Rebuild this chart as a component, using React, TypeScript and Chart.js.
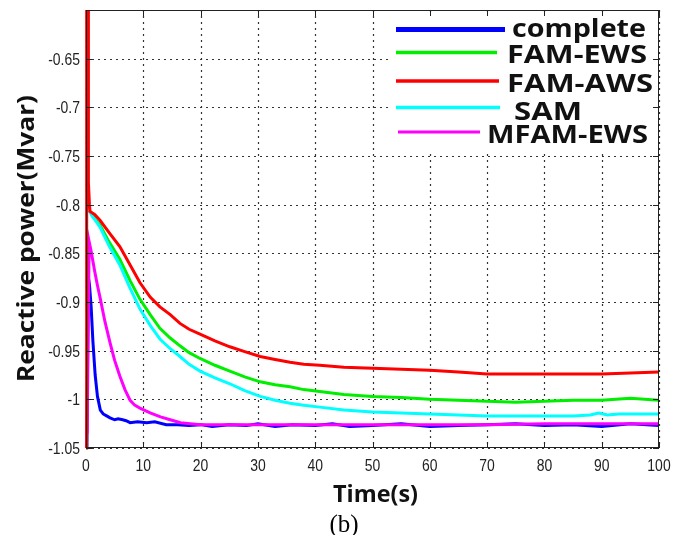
import { useEffect, useRef } from "react";
import { Chart, registerables } from "chart.js";

Chart.register(...registerables);

// ---------- data ----------
const seriesNames = ["complete", "FAM-EWS", "FAM-AWS", "SAM", "MFAM-EWS"];
const seriesColors = ["#0000ff", "#00ee00", "#ff0000", "#00ffff", "#ff00ff"];
const drawOrder = [5, 4, 1, 3, 2];

const xTickValues = [0, 10, 20, 30, 40, 50, 60, 70, 80, 90, 100];
const xTickLabels = ["0", "10", "20", "30", "40", "50", "60", "70", "80", "90", "100"];
const yTickValues = [-1.05, -1, -0.95, -0.9, -0.85, -0.8, -0.75, -0.7, -0.65, -0.6];
const yTickLabels = ["-1.05", "-1", "-0.95", "-0.9", "-0.85", "-0.8", "-0.75", "-0.7", "-0.65", ""];

const completeTime = [0.15, 0.4, 0.6, 0.9, 1.2, 1.6, 2.0, 2.5, 3.0, 3.6, 4.2, 5.0, 5.6, 6.4, 7.0, 7.7, 9.0, 10.6, 12.0, 14.0, 16.0, 18.0, 20.0, 22, 25, 28, 30, 33, 36, 40, 43, 46, 50, 55, 60, 65, 70, 75, 80, 85, 90, 95, 100];
const completeValue = [-1.05, -0.874, -0.882, -0.905, -0.94, -0.975, -0.997, -1.011, -1.015, -1.017, -1.019, -1.021, -1.02, -1.021, -1.022, -1.024, -1.023, -1.024, -1.023, -1.026, -1.026, -1.027, -1.026, -1.028, -1.026, -1.027, -1.025, -1.028, -1.026, -1.027, -1.025, -1.028, -1.027, -1.025, -1.028, -1.027, -1.026, -1.025, -1.027, -1.026, -1.028, -1.025, -1.027];

const famEwsTime = [0.6, 1, 1.6, 2.44, 4, 5.9, 7.7, 9.4, 11.2, 12.9, 14.7, 16.4, 18, 19.9, 22.5, 25.1, 27.7, 30.4, 33, 35.6, 38, 40.8, 45, 50, 55, 60, 65, 70, 75, 80, 85, 90, 95, 100];
const famEwsValue = [-0.806, -0.81, -0.815, -0.821, -0.838, -0.856, -0.878, -0.897, -0.913, -0.927, -0.937, -0.945, -0.952, -0.958, -0.965, -0.971, -0.977, -0.982, -0.985, -0.987, -0.99, -0.992, -0.995, -0.997, -0.998, -1.0, -1.001, -1.002, -1.003, -1.002, -1.001, -1.001, -0.999, -1.001];

const famAwsTime = [0, 0.12, 0.35, 0.42, 0.6, 0.7, 1.5, 2.44, 4.2, 5.9, 7.7, 9.4, 11.2, 12.9, 14.7, 16.4, 18, 19.9, 22.5, 25.1, 27.7, 30.4, 33, 35.6, 38, 40.8, 45, 50, 55, 60, 65, 70, 75, 80, 85, 90, 95, 100];
const famAwsValue = [-1.05, -0.45, -0.55, -0.777, -0.8, -0.807, -0.81, -0.816, -0.83, -0.843, -0.862, -0.88, -0.895, -0.905, -0.913, -0.922, -0.928, -0.933, -0.94, -0.946, -0.951, -0.956, -0.959, -0.962, -0.964, -0.965, -0.967, -0.968, -0.969, -0.97, -0.972, -0.974, -0.974, -0.974, -0.974, -0.974, -0.973, -0.972];

const samTime = [0.6, 1, 1.6, 2.44, 4, 5.9, 7.7, 9.4, 11.2, 12.9, 14.7, 16.4, 18, 19.9, 22.5, 25.1, 27.7, 30.4, 33, 35.6, 38, 40.8, 45, 50, 55, 60, 65, 70, 75, 80, 85, 88, 89.5, 91, 93, 95, 100];
const samValue = [-0.806, -0.811, -0.816, -0.823, -0.842, -0.862, -0.886, -0.907, -0.924, -0.938, -0.948, -0.956, -0.964, -0.971, -0.978, -0.984, -0.991, -0.997, -1.001, -1.004, -1.006, -1.008, -1.011, -1.013, -1.014, -1.015, -1.016, -1.017, -1.017, -1.017, -1.017, -1.016, -1.014, -1.016, -1.015, -1.015, -1.015];

const mfamEwsTime = [0.2, 0.55, 0.9, 1.5, 2.0, 2.44, 3.3, 4.2, 5.0, 5.9, 6.8, 7.7, 8.5, 9.4, 11.2, 13, 14.7, 16.5, 18.2, 20, 30, 40, 50, 60, 70, 80, 90, 100];
const mfamEwsValue = [-1.035, -0.838, -0.848, -0.868, -0.883, -0.895, -0.92, -0.942, -0.96, -0.976, -0.99, -1.001, -1.006, -1.009, -1.014, -1.018, -1.021, -1.024, -1.025, -1.026, -1.026, -1.026, -1.026, -1.026, -1.026, -1.025, -1.025, -1.025];

const seriesTimes = [completeTime, famEwsTime, famAwsTime, samTime, mfamEwsTime];
const seriesValues = [completeValue, famEwsValue, famAwsValue, samValue, mfamEwsValue];

const xTitle = "Time(s)";
const yTitle = "Reactive power(Mvar)";
const caption = "(b)";

// ---------- styling ----------
const tickFamily = "'Liberation Sans', Arial, sans-serif";
const titleFamily = "'Open Sans', 'DejaVu Sans', sans-serif";
const tickSqueeze = 0.82;

const legendLayout = [
  { x1: 396, x2: 505, y: 29.5, w: 5, tx: 512, ty: 37, tw: 134 },
  { x1: 396, x2: 497, y: 52.5, w: 3.5, tx: 507, ty: 63, tw: 140 },
  { x1: 396, x2: 499, y: 81, w: 3.5, tx: 507, ty: 92, tw: 146 },
  { x1: 396, x2: 500, y: 107.5, w: 3.5, tx: 514, ty: 120, tw: 68 },
  { x1: 398, x2: 480, y: 132, w: 3, tx: 487, ty: 143, tw: 161 },
];

function fitText(ctx: CanvasRenderingContext2D, text: string, x: number, y: number, width: number, font: string, align: CanvasTextAlign, rotate = 0) {
  ctx.save();
  ctx.font = font;
  const w = ctx.measureText(text).width || 1;
  ctx.translate(x, y);
  if (rotate) ctx.rotate(rotate);
  ctx.scale(width / w, 1);
  ctx.textAlign = align;
  ctx.textBaseline = "alphabetic";
  ctx.fillText(text, 0, 0);
  ctx.restore();
}

function squeezeText(ctx: CanvasRenderingContext2D, text: string, x: number, y: number, sx: number, align: CanvasTextAlign) {
  ctx.save();
  ctx.translate(x, y);
  ctx.scale(sx, 1);
  ctx.textAlign = align;
  ctx.textBaseline = "alphabetic";
  ctx.fillText(text, 0, 0);
  ctx.restore();
}

const matlabPlugin = {
  id: "matlabLook",
  beforeDatasetsDraw(chart: any) {
    const { ctx, chartArea, scales } = chart;
    const { left, right, top, bottom } = chartArea;
    ctx.save();
    ctx.strokeStyle = "#333";
    ctx.lineWidth = 1.2;
    ctx.setLineDash([2, 4]);
    for (const v of xTickValues) {
      const px = Math.round(scales.x.getPixelForValue(v)) + 0.5;
      ctx.beginPath();
      ctx.moveTo(px, top);
      ctx.lineTo(px, bottom);
      ctx.stroke();
    }
    for (const v of yTickValues) {
      const py = Math.round(scales.y.getPixelForValue(v)) + 0.5;
      ctx.beginPath();
      ctx.moveTo(left, py);
      ctx.lineTo(right, py);
      ctx.stroke();
    }
    ctx.setLineDash([]);
    // tick labels
    ctx.fillStyle = "#222";
    ctx.font = `17px ${tickFamily}`;
    xTickValues.forEach((v, i) => {
      const px = scales.x.getPixelForValue(v);
      squeezeText(ctx, xTickLabels[i], px, bottom + 23, tickSqueeze, "center");
    });
    yTickValues.forEach((v, i) => {
      const py = scales.y.getPixelForValue(v);
      squeezeText(ctx, yTickLabels[i], left - 6, py + 6, tickSqueeze, "right");
    });
    ctx.restore();
  },
  afterDatasetsDraw(chart: any) {
    const { ctx, chartArea, scales } = chart;
    const { left, right, top, bottom } = chartArea;
    ctx.save();
    // legend box
    ctx.fillStyle = "#ffffff";
    ctx.fillRect(392, top + 2, right - 3 - 392, 151 - top - 2);
    chart.data.datasets.forEach((ds: any, i: number) => {
      const L = legendLayout[i];
      ctx.strokeStyle = ds.borderColor;
      ctx.lineWidth = L.w;
      ctx.beginPath();
      ctx.moveTo(L.x1, L.y);
      ctx.lineTo(L.x2, L.y);
      ctx.stroke();
      ctx.fillStyle = "#111";
      fitText(ctx, ds.label, L.tx, L.ty, L.tw, `bold 25px ${titleFamily}`, "left");
    });
    // frame
    ctx.strokeStyle = "#222";
    ctx.lineWidth = 1;
    ctx.strokeRect(Math.round(left) + 0.5, Math.round(top) + 0.5, Math.round(right - left) - 1, Math.round(bottom - top) - 1);
    // inner ticks
    const tl = 6;
    ctx.beginPath();
    for (const v of xTickValues) {
      const px = Math.round(scales.x.getPixelForValue(v)) + 0.5;
      ctx.moveTo(px, bottom);
      ctx.lineTo(px, bottom - tl);
      ctx.moveTo(px, top);
      ctx.lineTo(px, top + tl);
    }
    for (const v of yTickValues) {
      const py = Math.round(scales.y.getPixelForValue(v)) + 0.5;
      ctx.moveTo(left, py);
      ctx.lineTo(left + tl, py);
      ctx.moveTo(right, py);
      ctx.lineTo(right - tl, py);
    }
    ctx.stroke();
    ctx.restore();
  },
  afterDraw(chart: any) {
    const { ctx } = chart;
    ctx.save();
    ctx.fillStyle = "#111";
    fitText(ctx, yTitle, 34, 238.5, 287, `bold 24px ${titleFamily}`, "center", -Math.PI / 2);
    fitText(ctx, xTitle, 375.5, 502, 85, `bold 24px ${titleFamily}`, "center");
    ctx.fillStyle = "#000";
    ctx.font = "25px 'Liberation Serif', 'Times New Roman', serif";
    ctx.textAlign = "center";
    ctx.textBaseline = "alphabetic";
    ctx.fillText(caption, 344, 532);
    ctx.restore();
  },
};

export default function App() {
  const ref = useRef<HTMLCanvasElement | null>(null);

  useEffect(() => {
    const canvas = ref.current;
    if (!canvas) return;
    const datasets = seriesNames.map((name, i) => ({
      label: name,
      data: seriesTimes[i].map((t, j) => ({ x: t, y: seriesValues[i][j] })),
      borderColor: seriesColors[i],
      backgroundColor: seriesColors[i],
      borderWidth: 3,
      pointRadius: 0,
      fill: false,
      tension: 0,
      order: drawOrder[i],
      clip: { left: 6, top: 0, right: 2, bottom: 2 },
    }));
    const chart = new Chart(canvas, {
      type: "line",
      data: { datasets },
      plugins: [matlabPlugin],
      options: {
        responsive: false,
        animation: false,
        devicePixelRatio: 1,
        events: [],
        layout: { padding: { left: 0, right: 27, top: 10, bottom: 0 } },
        plugins: { legend: { display: false }, tooltip: { enabled: false } },
        scales: {
          x: {
            type: "linear",
            min: 0,
            max: 100,
            afterBuildTicks: (s: any) => {
              s.ticks = xTickValues.map((value) => ({ value }));
            },
            afterFit: (s: any) => {
              s.height = 87;
            },
            ticks: { display: false },
            grid: { display: false, drawTicks: false },
            border: { display: false },
          },
          y: {
            type: "linear",
            min: -1.05,
            max: -0.6,
            afterBuildTicks: (s: any) => {
              s.ticks = yTickValues.map((value) => ({ value }));
            },
            afterFit: (s: any) => {
              s.width = 86;
            },
            ticks: { display: false },
            grid: { display: false, drawTicks: false },
            border: { display: false },
          },
        },
      },
    } as any);
    return () => chart.destroy();
  }, []);

  return (
    <div style={{ position: "fixed", left: 0, top: 0, width: 686, height: 535, background: "#fff" }}>
      <canvas ref={ref} width={686} height={535} style={{ width: 686, height: 535, display: "block" }} />
    </div>
  );
}
